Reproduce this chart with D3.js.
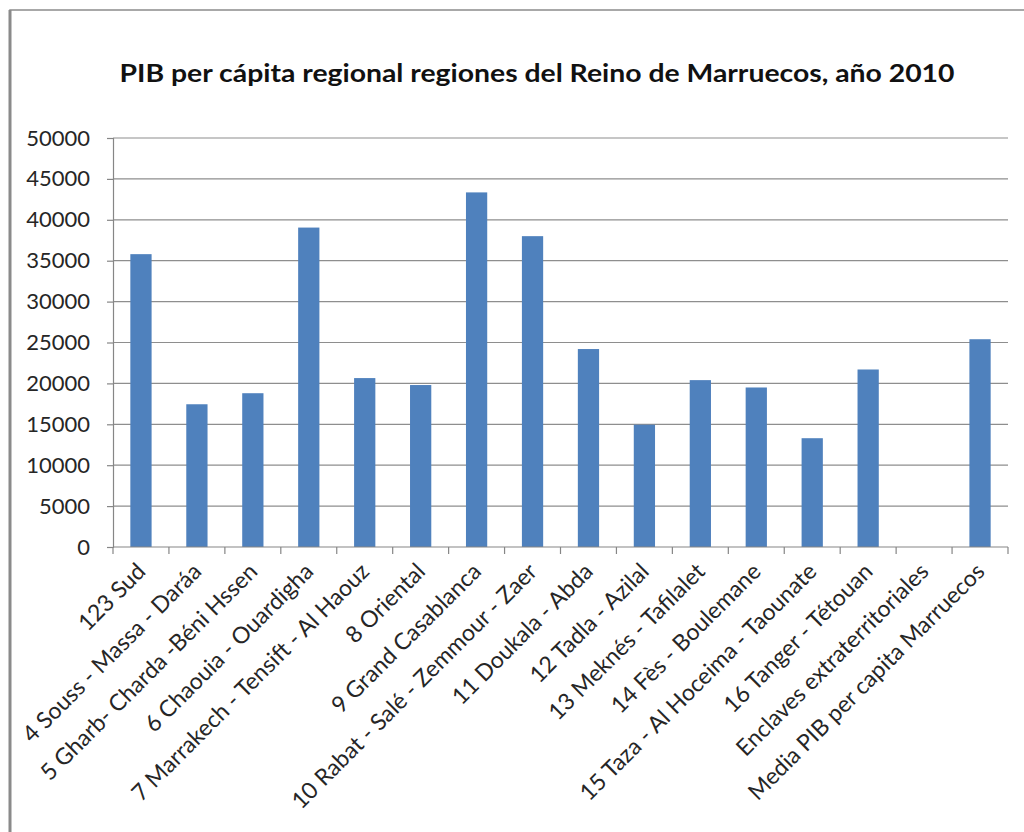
<!DOCTYPE html>
<html>
<head>
<meta charset="utf-8">
<script src="https://cdnjs.cloudflare.com/ajax/libs/d3/7.8.5/d3.min.js"></script>
<style>
  body { margin: 0; background: #fff; }
  svg { display: block; font-family: Lato, "Open Sans", sans-serif; }
</style>
</head>
<body>
<svg id="chart" width="1024" height="832"></svg>
<script>
// regiones y PIB per cápita (2010)
var regions = [
  "123 Sud",
  "4 Souss - Massa - Daráa",
  "5 Gharb- Charda -Béni Hssen",
  "6 Chaouia - Ouardigha",
  "7 Marrakech - Tensift - Al Haouz",
  "8 Oriental",
  "9 Grand Casablanca",
  "10 Rabat - Salé - Zemmour - Zaer",
  "11 Doukala - Abda",
  "12 Tadla - Azilal",
  "13 Meknés - Tafilalet",
  "14 Fès - Boulemane",
  "15 Taza - Al Hoceima - Taounate",
  "16 Tanger - Tétouan",
  "Enclaves extraterritoriales",
  "Media PIB per capita Marruecos"
];
var pibValues = [35800, 17450, 18800, 39050, 20650, 19800, 43350, 38000, 24200, 14950, 20400, 19500, 13300, 21700, 0, 25400];
var yTicks = [0, 5000, 10000, 15000, 20000, 25000, 30000, 35000, 40000, 45000, 50000];
var title = "PIB per cápita regional regiones del Reino de Marruecos, año 2010";

var svg = d3.select('#chart');
var plotLeft = 113, plotRight = 1008, plotTop = 138, plotBottom = 547;

// chart frame (right/bottom edges fall outside the picture)
svg.append('rect')
  .attr('x', 10).attr('y', 10)
  .attr('width', 1030).attr('height', 840)
  .attr('fill', '#fff')
  .attr('stroke', '#8c8c8c').attr('stroke-width', 1.5);
svg.append('line')
  .attr('x1', 10).attr('y1', 10).attr('x2', 10).attr('y2', 832)
  .attr('stroke', '#8a8a8a').attr('stroke-width', 3);

var x = d3.scaleBand().domain(regions).range([plotLeft, plotRight]).paddingInner(0.62).paddingOuter(0.31);
var y = d3.scaleLinear().domain([0, 50000]).range([plotBottom, plotTop]);

// gridlines
svg.append('g').selectAll('line').data(yTicks.slice(1)).join('line')
  .attr('x1', plotLeft).attr('x2', plotRight)
  .attr('y1', function(d) { return y(d); }).attr('y2', function(d) { return y(d); })
  .attr('stroke', '#8e8e8e').attr('stroke-width', 1.2);

// bars
svg.append('g').selectAll('rect').data(pibValues).join('rect')
  .attr('x', function(d, i) { return x(regions[i]); })
  .attr('width', x.bandwidth())
  .attr('y', function(d) { return y(d); })
  .attr('height', function(d) { return y(0) - y(d); })
  .attr('fill', '#4f81bd');

// y axis
var yAxis = svg.append('g')
  .attr('transform', 'translate(' + plotLeft + ',0)')
  .call(d3.axisLeft(y).tickValues(yTicks).tickSize(6).tickPadding(17).tickFormat(d3.format('d')));
yAxis.select('.domain').attr('stroke', '#868686').attr('stroke-width', 1.2);
yAxis.selectAll('.tick line').attr('stroke', '#868686').attr('stroke-width', 1.2);
yAxis.selectAll('text').attr('font-size', 22).attr('fill', '#262626').attr('font-family', 'Lato, sans-serif');

// x axis (ticks between categories)
var xb = svg.append('g');
xb.append('line')
  .attr('x1', plotLeft).attr('x2', plotRight).attr('y1', plotBottom).attr('y2', plotBottom)
  .attr('stroke', '#868686').attr('stroke-width', 1.2);
xb.selectAll('line.tk').data(d3.range(regions.length + 1)).join('line')
  .attr('class', 'tk')
  .attr('x1', function(i) { return plotLeft + i * x.step(); })
  .attr('x2', function(i) { return plotLeft + i * x.step(); })
  .attr('y1', plotBottom).attr('y2', plotBottom + 7)
  .attr('stroke', '#868686').attr('stroke-width', 1.2);

xb.selectAll('text').data(regions).join('text')
  .attr('transform', function(d) {
    var cx = x(d) + x.bandwidth() / 2 + 6;
    return 'translate(' + cx + ',' + (plotBottom + 26) + ') rotate(-45)';
  })
  .attr('text-anchor', 'end')
  .attr('font-size', 23)
  .attr('fill', '#262626')
  .text(function(d) { return d; });

// title
svg.append('text')
  .attr('x', 537).attr('y', 82)
  .attr('text-anchor', 'middle')
  .attr('font-size', 25)
  .attr('font-weight', 'bold')
  .attr('textLength', 835)
  .attr('lengthAdjust', 'spacingAndGlyphs')
  .attr('fill', '#111')
  .text(title);
</script>
</body>
</html>
